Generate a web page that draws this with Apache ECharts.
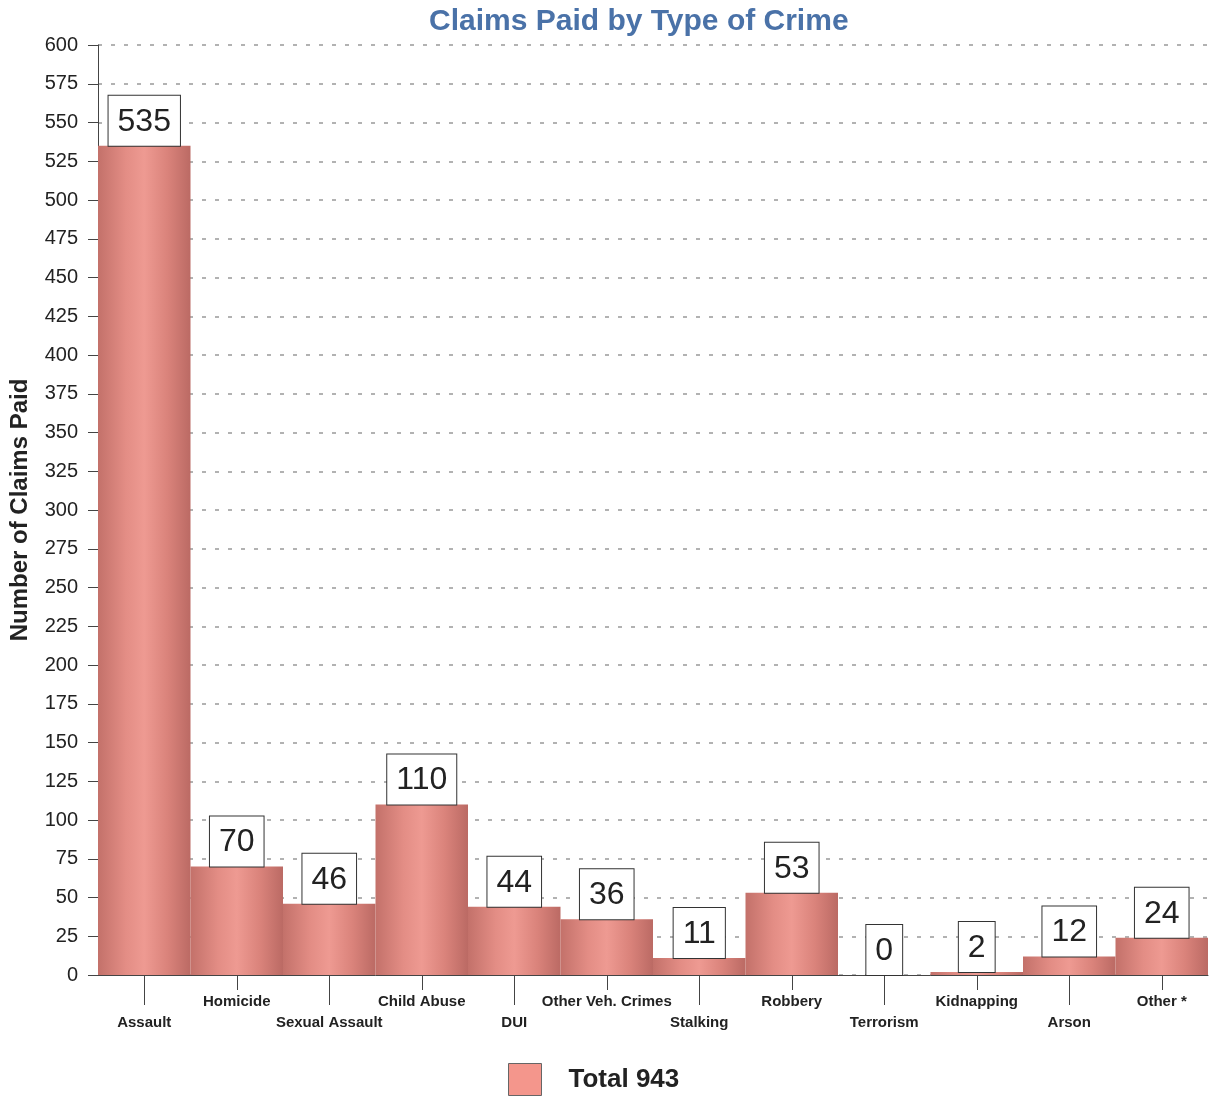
<!DOCTYPE html>
<html>
<head>
<meta charset="utf-8">
<script src="https://cdn.jsdelivr.net/npm/echarts@6/dist/echarts.min.js"></script>
<style>
  html, body { margin: 0; padding: 0; background: #fff; }
  #chart { width: 1211px; height: 1097px; }
</style>
</head>
<body>
<div id="chart"></div>
<script>
const categories = ['Assault', 'Homicide', 'Sexual Assault', 'Child Abuse', 'DUI', 'Other Veh. Crimes',
  'Stalking', 'Robbery', 'Terrorism', 'Kidnapping', 'Arson', 'Other *']
const claimsPaid = [535, 70, 46, 110, 44, 36, 11, 53, 0, 2, 12, 24]
const seriesName = 'Total 943'

const chart = echarts.init(document.getElementById('chart'))

// 柱子横向渐变，模拟圆柱质感
const barColor = new echarts.graphic.LinearGradient(0, 0, 1, 0, [
  { offset: 0, color: '#c3716a' },
  { offset: 0.3, color: '#e38d85' },
  { offset: 0.5, color: '#ee9a92' },
  { offset: 0.75, color: '#da837b' },
  { offset: 1, color: '#bb6a64' }
])

const font = 'Arial, "Liberation Sans", sans-serif'

// 标签上下错开：偶数位在下，奇数位在上
const isLow = (i) => i % 2 === 0

const option = {
  backgroundColor: '#fff',
  animation: false,
  title: {
    text: 'Claims Paid by Type of Crime',
    left: 424,
    top: 2,
    textStyle: { color: '#4a72a8', fontSize: 30, fontWeight: 'bold', fontFamily: font }
  },
  legend: {
    left: 503,
    top: 1058,
    icon: 'rect',
    itemWidth: 33,
    itemHeight: 32,
    data: [{ name: seriesName, itemStyle: { color: '#f4968c', borderColor: '#666', borderWidth: 1 } }],
    textStyle: { color: '#222', fontSize: 26, fontWeight: 'bold', fontFamily: font, padding: [0, 0, 0, 22] }
  },
  grid: { left: 98, right: 3, top: 45, bottom: 122 },
  xAxis: [
    {
      type: 'category',
      data: categories,
      position: 'bottom',
      axisLine: { lineStyle: { color: '#444', width: 1 } },
      axisTick: { show: true, alignWithLabel: true, length: 15, interval: (i) => !isLow(i), lineStyle: { color: '#444' } },
      axisLabel: {
        interval: (i) => !isLow(i),
        margin: 19,
        color: '#222',
        fontSize: 15,
        fontWeight: 'bold',
        fontFamily: font
      }
    },
    {
      type: 'category',
      data: categories,
      position: 'bottom',
      axisLine: { show: false },
      axisTick: { show: true, alignWithLabel: true, length: 30, interval: (i) => isLow(i), lineStyle: { color: '#444' } },
      axisLabel: {
        interval: (i) => isLow(i),
        margin: 40,
        color: '#222',
        fontSize: 15,
        fontWeight: 'bold',
        fontFamily: font
      }
    }
  ],
  yAxis: {
    type: 'value',
    min: 0,
    max: 600,
    interval: 25,
    name: 'Number of Claims Paid',
    nameLocation: 'middle',
    nameGap: 66,
    nameTextStyle: { color: '#222', fontSize: 24, fontWeight: 'bold', fontFamily: font },
    axisLine: { show: true, lineStyle: { color: '#444' } },
    axisTick: { show: true, length: 10, lineStyle: { color: '#444' } },
    axisLabel: { color: '#222', fontSize: 20, fontFamily: font, margin: 20 },
    splitLine: { lineStyle: { color: '#999', type: [4, 9], width: 1.5 } }
  },
  series: [
    {
      name: seriesName,
      type: 'bar',
      data: claimsPaid,
      barCategoryGap: 0,
      itemStyle: { color: barColor },
      label: {
        show: true,
        position: 'top',
        distance: 0,
        color: '#222',
        fontSize: 32,
        fontFamily: font,
        backgroundColor: '#fff',
        borderColor: '#333',
        borderWidth: 1,
        padding: [10, 9, 8, 9]
      }
    }
  ]
}

chart.setOption(option)
</script>
</body>
</html>
